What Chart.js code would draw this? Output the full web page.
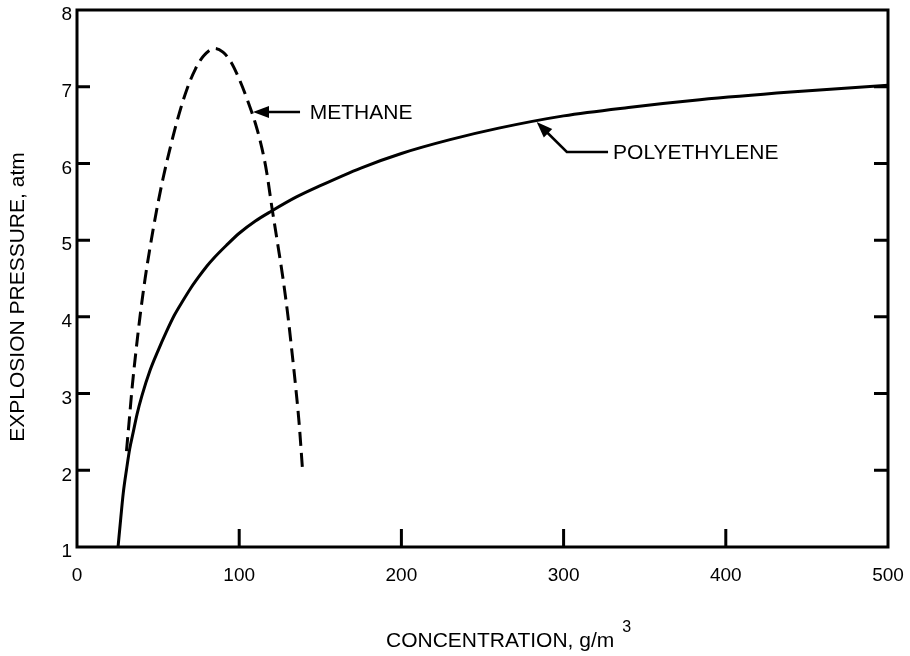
<!DOCTYPE html>
<html lang="en">
<head>
<meta charset="UTF-8">
<title>Explosion Pressure vs Concentration</title>
<script src="https://cdn.jsdelivr.net/npm/chart.js"></script>
<style>
    html, body { margin: 0; padding: 0; background: #ffffff; }
    #wrap { width: 910px; height: 656px; }
</style>
</head>
<body>
<div id="wrap"><canvas id="grafico" width="910" height="656"></canvas></div>
<script>
    // Methane (dashed curve)
    const methaneX = [30.5, 32, 34, 36.5, 39, 42, 45, 49, 53, 58, 63, 68, 73, 78, 85, 90, 95, 100, 105, 110, 114, 117, 120, 123.5, 127, 130, 132.5, 135, 137, 139];
    const methaneY = [2.25, 2.6, 3.08, 3.58, 4.03, 4.5, 4.9, 5.38, 5.8, 6.25, 6.65, 6.98, 7.23, 7.4, 7.5, 7.45, 7.32, 7.1, 6.83, 6.52, 6.2, 5.88, 5.45, 4.98, 4.5, 4.02, 3.55, 3.05, 2.6, 2.02];

    // Polyethylene (solid curve)
    const polyX = [25.3, 27, 28.5, 30.6, 32.5, 34.7, 37, 40, 45, 50, 55, 60, 65, 70, 75, 80, 85, 92, 100, 110, 120, 135, 150, 175, 200, 230, 260, 300, 340, 384, 440, 500];
    const polyY = [1.0, 1.38, 1.7, 2.02, 2.28, 2.5, 2.73, 2.97, 3.3, 3.56, 3.8, 4.02, 4.2, 4.37, 4.52, 4.66, 4.78, 4.93, 5.09, 5.25, 5.38, 5.56, 5.71, 5.94, 6.13, 6.31, 6.46, 6.62, 6.73, 6.83, 6.93, 7.02];

    const xTicks = [0, 100, 200, 300, 400, 500];
    const yTicks = [1, 2, 3, 4, 5, 6, 7, 8];

    const FONT = "'Liberation Sans', Arial, Helvetica, sans-serif";

    const toPoints = (xs, ys) => xs.map((x, i) => ({ x: x, y: ys[i] }));

    // no extra room for overhanging tick labels
    const noPad = s => { s.paddingLeft = 0; s.paddingRight = 0; s.paddingTop = 0; s.paddingBottom = 0; };

    // frame, inward ticks, arrows, labels and axis titles
    const decor = {
        id: 'decor',
        afterDraw(chart) {
            const ctx = chart.ctx;
            const a = chart.chartArea;
            const sx = chart.scales.x, sy = chart.scales.y;
            ctx.save();
            ctx.strokeStyle = '#000';
            ctx.fillStyle = '#000';
            ctx.lineWidth = 3;
            ctx.lineCap = 'butt';
            ctx.strokeRect(a.left, a.top, a.right - a.left, a.bottom - a.top);

            ctx.beginPath();
            yTicks.slice(1, -1).forEach(v => {
                const py = sy.getPixelForValue(v);
                ctx.moveTo(a.left, py); ctx.lineTo(a.left + 13, py);
                ctx.moveTo(a.right, py); ctx.lineTo(a.right - 14, py);
            });
            xTicks.slice(1, -1).forEach(v => {
                const px = sx.getPixelForValue(v);
                ctx.moveTo(px, a.bottom); ctx.lineTo(px, a.bottom - 18);
            });
            ctx.stroke();

            // METHANE arrow
            const mTipX = sx.getPixelForValue(108.5), mTipY = sy.getPixelForValue(6.67);
            ctx.lineWidth = 2.5;
            ctx.beginPath();
            ctx.moveTo(mTipX + 14, mTipY);
            ctx.lineTo(sx.getPixelForValue(137.5), mTipY);
            ctx.stroke();
            ctx.beginPath();
            ctx.moveTo(mTipX, mTipY);
            ctx.lineTo(mTipX + 16, mTipY - 6);
            ctx.lineTo(mTipX + 16, mTipY + 6);
            ctx.closePath();
            ctx.fill();

            ctx.font = '21px ' + FONT;
            ctx.textAlign = 'left';
            ctx.textBaseline = 'middle';
            ctx.fillText('METHANE', sx.getPixelForValue(143.5), mTipY + 1);

            // POLYETHYLENE arrow
            const pTipX = sx.getPixelForValue(283.4), pTipY = sy.getPixelForValue(6.54);
            const pElbX = sx.getPixelForValue(302), pElbY = sy.getPixelForValue(6.15);
            ctx.beginPath();
            ctx.moveTo(pTipX + 8, pTipY + 8);
            ctx.lineTo(pElbX, pElbY);
            ctx.lineTo(sx.getPixelForValue(327.4), pElbY);
            ctx.stroke();
            const ang = Math.atan2(pElbY - pTipY, pElbX - pTipX);
            ctx.beginPath();
            ctx.moveTo(pTipX, pTipY);
            ctx.lineTo(pTipX + 16 * Math.cos(ang) - 6 * Math.sin(ang), pTipY + 16 * Math.sin(ang) + 6 * Math.cos(ang));
            ctx.lineTo(pTipX + 16 * Math.cos(ang) + 6 * Math.sin(ang), pTipY + 16 * Math.sin(ang) - 6 * Math.cos(ang));
            ctx.closePath();
            ctx.fill();
            ctx.fillText('POLYETHYLENE', sx.getPixelForValue(330.5), pElbY + 1);

            // axis titles
            ctx.font = '21px ' + FONT;
            const xt = 'CONCENTRATION, g/m';
            const xtLeft = 386, xtY = 641;
            ctx.fillText(xt, xtLeft, xtY);
            const w = ctx.measureText(xt).width;
            ctx.font = '16px ' + FONT;
            ctx.fillText('3', xtLeft + w + 8, xtY - 13);

            ctx.font = '21px ' + FONT;
            ctx.translate(18, 297);
            ctx.rotate(-Math.PI / 2);
            ctx.textAlign = 'center';
            ctx.fillText('EXPLOSION PRESSURE, atm', 0, 0);
            ctx.restore();
        }
    };

    const grafico = new Chart(document.getElementById('grafico'), {
        type: 'line',
        data: {
            datasets: [{
                label: 'METHANE',
                data: toPoints(methaneX, methaneY),
                borderColor: '#000',
                borderWidth: 3,
                borderDash: [14, 7],
                pointRadius: 0,
                fill: false,
                cubicInterpolationMode: 'monotone'
            }, {
                label: 'POLYETHYLENE',
                data: toPoints(polyX, polyY),
                borderColor: '#000',
                borderWidth: 3,
                pointRadius: 0,
                fill: false,
                cubicInterpolationMode: 'monotone'
            }]
        },
        options: {
            responsive: false,
            animation: false,
            devicePixelRatio: 1,
            layout: { padding: { left: 0, right: 22, top: 10, bottom: 0 } },
            plugins: { legend: { display: false }, tooltip: { enabled: false } },
            scales: {
                x: {
                    type: 'linear',
                    min: 0, max: 500,
                    afterBuildTicks: s => { s.ticks = xTicks.map(v => ({ value: v })); },
                    afterFit: s => { s.height = 109; noPad(s); },
                    grid: { display: false, drawTicks: false },
                    border: { display: false },
                    ticks: { color: '#000', font: { family: FONT, size: 19 }, padding: 17, maxRotation: 0 }
                },
                y: {
                    type: 'linear',
                    min: 1, max: 8,
                    afterBuildTicks: s => { s.ticks = yTicks.map(v => ({ value: v })); },
                    afterFit: s => { s.width = 77; noPad(s); },
                    grid: { display: false, drawTicks: false },
                    border: { display: false },
                    ticks: { color: '#000', font: { family: FONT, size: 19 }, padding: 5, labelOffset: 5 }
                }
            }
        },
        plugins: [decor]
    });
</script>
</body>
</html>
